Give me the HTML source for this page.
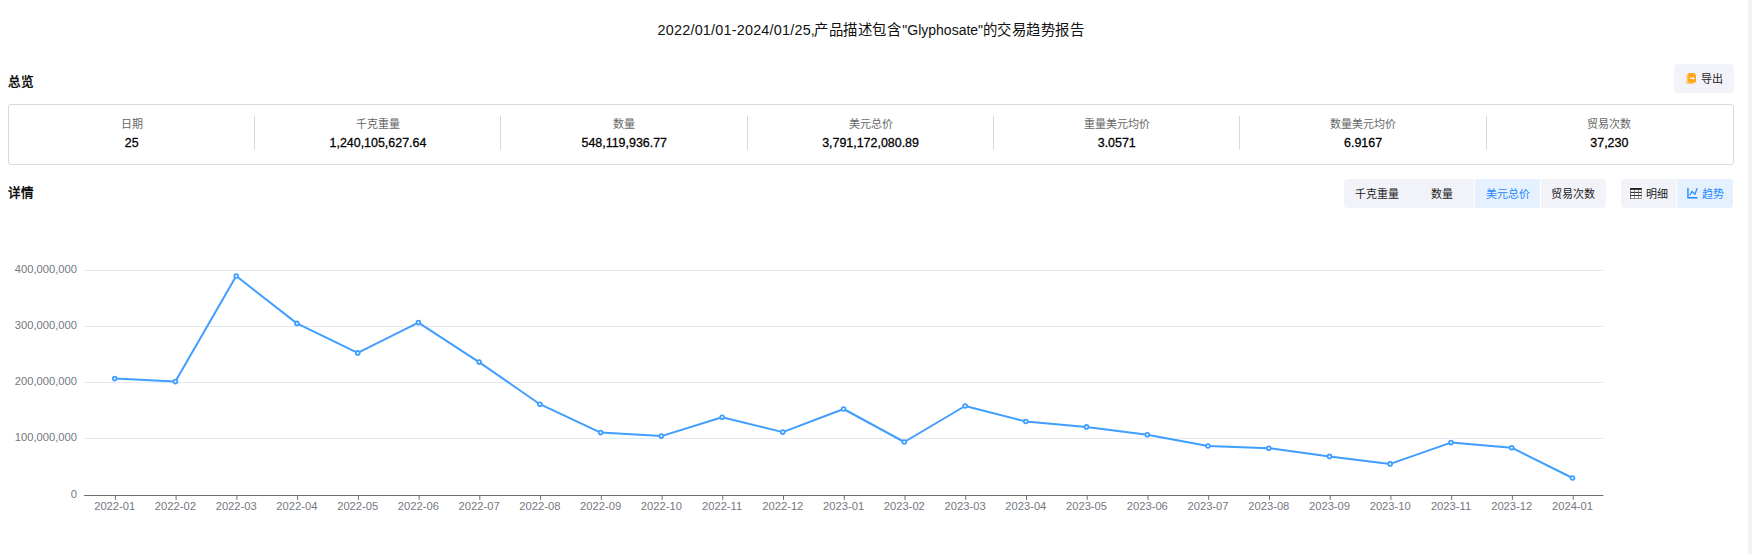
<!DOCTYPE html>
<html lang="zh-CN"><head><meta charset="utf-8"><title>Glyphosate 交易趋势报告</title>
<style>
html,body{margin:0;padding:0}
body{width:1752px;height:554px;overflow:hidden;background:#fff;position:relative;font-family:"Liberation Sans",sans-serif;color:#000}
.abs{position:absolute;white-space:nowrap}
.j{display:inline-block;text-align:justify;text-align-last:justify;white-space:nowrap;vertical-align:top}
.title span{position:absolute;top:19.5px;height:20px;line-height:20px;font-size:14.4px;white-space:nowrap;color:#111}
.h{position:absolute;left:8px;font-size:12.6px;font-weight:bold;line-height:16px;white-space:nowrap;color:#111}
.box{position:absolute;left:8px;top:104px;width:1724px;height:59px;border:1px solid #d9d9d9;border-radius:3px}
.col{position:absolute;top:116px;height:34px;text-align:center;white-space:nowrap}
.lab{font-size:11px;line-height:14px;color:#666;margin-top:1px}
.val{font-size:12.45px;line-height:16px;color:#000;margin-top:4px;-webkit-text-stroke:0.28px #000}
.dv{position:absolute;top:116px;width:1px;height:34px;background:#d9d9d9}
.btn{position:absolute;top:179px;height:29px;line-height:31px;background:#f2f3f9;font-size:11px;color:#222;text-align:center;white-space:nowrap}
.btn.on{background:#e5f1fe;color:#1f88ff}
.exp{position:absolute;left:1674px;top:64px;width:60px;height:29px;background:#f2f3f9;border-radius:4px}
.sb{position:absolute;left:1748px;top:0;width:4px;height:554px;background:#f1f2f8}
.chart{position:absolute;left:0;top:0}
.yl{position:absolute;left:0;width:77px;text-align:right;font-size:11.2px;line-height:14px;color:#75777f;white-space:nowrap}
.xl{position:absolute;top:499px;width:60px;text-align:center;font-size:11.2px;line-height:14px;color:#75777f;white-space:nowrap}
</style></head><body>
<div class="title"><span style="left:657.6px;letter-spacing:0.21px">2022/01/01-2024/01/25,</span><span class="j" style="left:814.3px;width:86.4px">产品描述包含</span><span style="left:902.3px;font-size:14px">"Glyphosate"</span><span class="j" style="left:982.8px;width:101.2px">的交易趋势报告</span></div>
<div class="h j" style="top:74px;width:25.2px">总览</div>
<div class="exp"><svg class="abs" style="left:12px;top:8px" width="11" height="13" viewBox="0 0 11 13"><rect x="0.4" y="2" width="7.6" height="9.9" rx="0.9" fill="#ffc670"/><path d="M3 0.9H8.1L10 2.8V9.6a0.8 0.8 0 0 1-0.8 0.8H3a0.8 0.8 0 0 1-0.8-0.8V1.7a0.8 0.8 0 0 1 0.8-0.8z" fill="#ffa51d"/><path d="M8.1 0.9V2.8H10z" fill="#ffcf8a"/><path d="M4 5.8H7V5L8.9 6.4 7 7.8V7H4z" fill="#fff"/></svg><span class="abs j" style="left:27px;top:0.5px;width:22px;line-height:29px;font-size:11px;color:#222">导出</span></div>
<div class="box"></div>
<div class="col" style="left:9.0px;width:245.3px"><div class="lab"><span class="j" style="width:22.0px">日期</span></div><div class="val">25</div></div><div class="dv" style="left:254px"></div><div class="col" style="left:255.3px;width:245.3px"><div class="lab"><span class="j" style="width:44.0px">千克重量</span></div><div class="val">1,240,105,627.64</div></div><div class="dv" style="left:500px"></div><div class="col" style="left:501.6px;width:245.3px"><div class="lab"><span class="j" style="width:22.0px">数量</span></div><div class="val">548,119,936.77</div></div><div class="dv" style="left:747px"></div><div class="col" style="left:747.9px;width:245.3px"><div class="lab"><span class="j" style="width:44.0px">美元总价</span></div><div class="val">3,791,172,080.89</div></div><div class="dv" style="left:993px"></div><div class="col" style="left:994.1px;width:245.3px"><div class="lab"><span class="j" style="width:66.0px">重量美元均价</span></div><div class="val">3.0571</div></div><div class="dv" style="left:1239px"></div><div class="col" style="left:1240.4px;width:245.3px"><div class="lab"><span class="j" style="width:66.0px">数量美元均价</span></div><div class="val">6.9167</div></div><div class="dv" style="left:1486px"></div><div class="col" style="left:1486.7px;width:245.3px"><div class="lab"><span class="j" style="width:44.0px">贸易次数</span></div><div class="val">37,230</div></div>
<div class="h j" style="top:185px;width:25.2px">详情</div>
<div class="btn" style="left:1344px;width:66px;border-radius:4px 0 0 4px"><span class="j" style="width:44.0px">千克重量</span></div>
<div class="btn" style="left:1410px;width:64px"><span class="j" style="width:22.0px">数量</span></div>
<div class="btn on" style="left:1475px;width:65px"><span class="j" style="width:44.0px">美元总价</span></div>
<div class="btn" style="left:1541px;width:63.5px;padding-right:1.5px;border-radius:0 4px 4px 0"><span class="j" style="width:44.0px">贸易次数</span></div>
<div class="btn" style="left:1621px;width:55px;border-radius:4px 0 0 4px"><svg class="abs" style="left:8px;top:8px;overflow:visible" width="14" height="13" viewBox="-1 -1 14 13"><rect x="-0.7" y="-0.8" width="13.4" height="12.5" fill="#fff" opacity="0.75"/><rect x="0.4" y="1" width="11.2" height="9.6" fill="#fff"/><rect x="0" y="0" width="11.9" height="1.85" fill="#1c1c1c"/><rect x="0" y="3.9" width="11.9" height="1" fill="#222"/><rect x="0" y="7" width="11.9" height="1" fill="#222"/><rect x="0" y="10.25" width="11.9" height="0.65" fill="#5a5a5a"/><rect x="0" y="1.8" width="0.8" height="9.1" fill="#555"/><rect x="4" y="1.8" width="0.7" height="9.1" fill="#666"/><rect x="8.05" y="1.8" width="0.7" height="9.1" fill="#666"/><rect x="11.4" y="1.8" width="0.5" height="9.1" fill="#777"/></svg><span class="abs j" style="left:25px;top:0;width:22px">明细</span></div>
<div class="btn on" style="left:1677px;width:56px;border-radius:0 4px 4px 0"><svg class="abs" style="left:9.6px;top:9.2px;overflow:visible" width="11" height="11" viewBox="0 0 11 11"><path d="M0.95 -0.1V9.7H10.5" fill="none" stroke="#2189ff" stroke-width="1.4"/><path d="M2.7 7.2L5 3.4 7.9 6.2 10.2 0.3" fill="none" stroke="#1a85ff" stroke-width="1.2"/></svg><span class="abs j" style="left:25px;top:0;width:22px">趋势</span></div>
<svg class="chart" width="1752" height="554" viewBox="0 0 1752 554"><line x1="84.0" y1="270.5" x2="1603.4" y2="270.5" stroke="#e3e8f3" stroke-width="1"/><line x1="84.0" y1="326.5" x2="1603.4" y2="326.5" stroke="#e3e8f3" stroke-width="1"/><line x1="84.0" y1="382.5" x2="1603.4" y2="382.5" stroke="#e3e8f3" stroke-width="1"/><line x1="84.0" y1="438.5" x2="1603.4" y2="438.5" stroke="#e3e8f3" stroke-width="1"/><line x1="84.0" y1="495.5" x2="1603.4" y2="495.5" stroke="#6e7079" stroke-width="1"/><line x1="115.4" y1="495.5" x2="115.4" y2="499.9" stroke="#6e7079" stroke-width="1"/><line x1="176.1" y1="495.5" x2="176.1" y2="499.9" stroke="#6e7079" stroke-width="1"/><line x1="236.9" y1="495.5" x2="236.9" y2="499.9" stroke="#6e7079" stroke-width="1"/><line x1="297.6" y1="495.5" x2="297.6" y2="499.9" stroke="#6e7079" stroke-width="1"/><line x1="358.4" y1="495.5" x2="358.4" y2="499.9" stroke="#6e7079" stroke-width="1"/><line x1="419.1" y1="495.5" x2="419.1" y2="499.9" stroke="#6e7079" stroke-width="1"/><line x1="479.8" y1="495.5" x2="479.8" y2="499.9" stroke="#6e7079" stroke-width="1"/><line x1="540.6" y1="495.5" x2="540.6" y2="499.9" stroke="#6e7079" stroke-width="1"/><line x1="601.3" y1="495.5" x2="601.3" y2="499.9" stroke="#6e7079" stroke-width="1"/><line x1="662.1" y1="495.5" x2="662.1" y2="499.9" stroke="#6e7079" stroke-width="1"/><line x1="722.8" y1="495.5" x2="722.8" y2="499.9" stroke="#6e7079" stroke-width="1"/><line x1="783.5" y1="495.5" x2="783.5" y2="499.9" stroke="#6e7079" stroke-width="1"/><line x1="844.3" y1="495.5" x2="844.3" y2="499.9" stroke="#6e7079" stroke-width="1"/><line x1="905.0" y1="495.5" x2="905.0" y2="499.9" stroke="#6e7079" stroke-width="1"/><line x1="965.8" y1="495.5" x2="965.8" y2="499.9" stroke="#6e7079" stroke-width="1"/><line x1="1026.5" y1="495.5" x2="1026.5" y2="499.9" stroke="#6e7079" stroke-width="1"/><line x1="1087.2" y1="495.5" x2="1087.2" y2="499.9" stroke="#6e7079" stroke-width="1"/><line x1="1148.0" y1="495.5" x2="1148.0" y2="499.9" stroke="#6e7079" stroke-width="1"/><line x1="1208.7" y1="495.5" x2="1208.7" y2="499.9" stroke="#6e7079" stroke-width="1"/><line x1="1269.5" y1="495.5" x2="1269.5" y2="499.9" stroke="#6e7079" stroke-width="1"/><line x1="1330.2" y1="495.5" x2="1330.2" y2="499.9" stroke="#6e7079" stroke-width="1"/><line x1="1390.9" y1="495.5" x2="1390.9" y2="499.9" stroke="#6e7079" stroke-width="1"/><line x1="1451.7" y1="495.5" x2="1451.7" y2="499.9" stroke="#6e7079" stroke-width="1"/><line x1="1512.4" y1="495.5" x2="1512.4" y2="499.9" stroke="#6e7079" stroke-width="1"/><line x1="1573.2" y1="495.5" x2="1573.2" y2="499.9" stroke="#6e7079" stroke-width="1"/><polyline points="114.7,378.6 175.4,381.6 236.2,276.0 296.9,323.4 357.7,352.9 418.4,322.6 479.1,362.1 539.9,404.2 600.6,432.6 661.4,436.1 722.1,417.2 782.8,432.1 843.6,409.0 904.3,442.0 965.1,406.0 1025.8,421.5 1086.5,426.9 1147.3,434.7 1208.0,446.0 1268.8,448.2 1329.5,456.4 1390.2,463.9 1451.0,442.6 1511.7,447.7 1572.5,478.0" fill="none" stroke="#409eff" stroke-width="2" stroke-linejoin="bevel"/><circle cx="114.7" cy="378.6" r="1.9" fill="#fff" stroke="#409eff" stroke-width="1.8"/><circle cx="175.4" cy="381.6" r="1.9" fill="#fff" stroke="#409eff" stroke-width="1.8"/><circle cx="236.2" cy="276.0" r="1.9" fill="#fff" stroke="#409eff" stroke-width="1.8"/><circle cx="296.9" cy="323.4" r="1.9" fill="#fff" stroke="#409eff" stroke-width="1.8"/><circle cx="357.7" cy="352.9" r="1.9" fill="#fff" stroke="#409eff" stroke-width="1.8"/><circle cx="418.4" cy="322.6" r="1.9" fill="#fff" stroke="#409eff" stroke-width="1.8"/><circle cx="479.1" cy="362.1" r="1.9" fill="#fff" stroke="#409eff" stroke-width="1.8"/><circle cx="539.9" cy="404.2" r="1.9" fill="#fff" stroke="#409eff" stroke-width="1.8"/><circle cx="600.6" cy="432.6" r="1.9" fill="#fff" stroke="#409eff" stroke-width="1.8"/><circle cx="661.4" cy="436.1" r="1.9" fill="#fff" stroke="#409eff" stroke-width="1.8"/><circle cx="722.1" cy="417.2" r="1.9" fill="#fff" stroke="#409eff" stroke-width="1.8"/><circle cx="782.8" cy="432.1" r="1.9" fill="#fff" stroke="#409eff" stroke-width="1.8"/><circle cx="843.6" cy="409.0" r="1.9" fill="#fff" stroke="#409eff" stroke-width="1.8"/><circle cx="904.3" cy="442.0" r="1.9" fill="#fff" stroke="#409eff" stroke-width="1.8"/><circle cx="965.1" cy="406.0" r="1.9" fill="#fff" stroke="#409eff" stroke-width="1.8"/><circle cx="1025.8" cy="421.5" r="1.9" fill="#fff" stroke="#409eff" stroke-width="1.8"/><circle cx="1086.5" cy="426.9" r="1.9" fill="#fff" stroke="#409eff" stroke-width="1.8"/><circle cx="1147.3" cy="434.7" r="1.9" fill="#fff" stroke="#409eff" stroke-width="1.8"/><circle cx="1208.0" cy="446.0" r="1.9" fill="#fff" stroke="#409eff" stroke-width="1.8"/><circle cx="1268.8" cy="448.2" r="1.9" fill="#fff" stroke="#409eff" stroke-width="1.8"/><circle cx="1329.5" cy="456.4" r="1.9" fill="#fff" stroke="#409eff" stroke-width="1.8"/><circle cx="1390.2" cy="463.9" r="1.9" fill="#fff" stroke="#409eff" stroke-width="1.8"/><circle cx="1451.0" cy="442.6" r="1.9" fill="#fff" stroke="#409eff" stroke-width="1.8"/><circle cx="1511.7" cy="447.7" r="1.9" fill="#fff" stroke="#409eff" stroke-width="1.8"/><circle cx="1572.5" cy="478.0" r="1.9" fill="#fff" stroke="#409eff" stroke-width="1.8"/></svg>
<div class="yl" style="top:261.8px">400,000,000</div><div class="yl" style="top:317.8px">300,000,000</div><div class="yl" style="top:373.8px">200,000,000</div><div class="yl" style="top:429.8px">100,000,000</div><div class="yl" style="top:486.8px">0</div>
<div class="xl" style="left:84.7px">2022-01</div><div class="xl" style="left:145.4px">2022-02</div><div class="xl" style="left:206.2px">2022-03</div><div class="xl" style="left:266.9px">2022-04</div><div class="xl" style="left:327.7px">2022-05</div><div class="xl" style="left:388.4px">2022-06</div><div class="xl" style="left:449.1px">2022-07</div><div class="xl" style="left:509.9px">2022-08</div><div class="xl" style="left:570.6px">2022-09</div><div class="xl" style="left:631.4px">2022-10</div><div class="xl" style="left:692.1px">2022-11</div><div class="xl" style="left:752.8px">2022-12</div><div class="xl" style="left:813.6px">2023-01</div><div class="xl" style="left:874.3px">2023-02</div><div class="xl" style="left:935.1px">2023-03</div><div class="xl" style="left:995.8px">2023-04</div><div class="xl" style="left:1056.5px">2023-05</div><div class="xl" style="left:1117.3px">2023-06</div><div class="xl" style="left:1178.0px">2023-07</div><div class="xl" style="left:1238.8px">2023-08</div><div class="xl" style="left:1299.5px">2023-09</div><div class="xl" style="left:1360.2px">2023-10</div><div class="xl" style="left:1421.0px">2023-11</div><div class="xl" style="left:1481.7px">2023-12</div><div class="xl" style="left:1542.5px">2024-01</div>
<div class="sb"></div>
</body></html>
